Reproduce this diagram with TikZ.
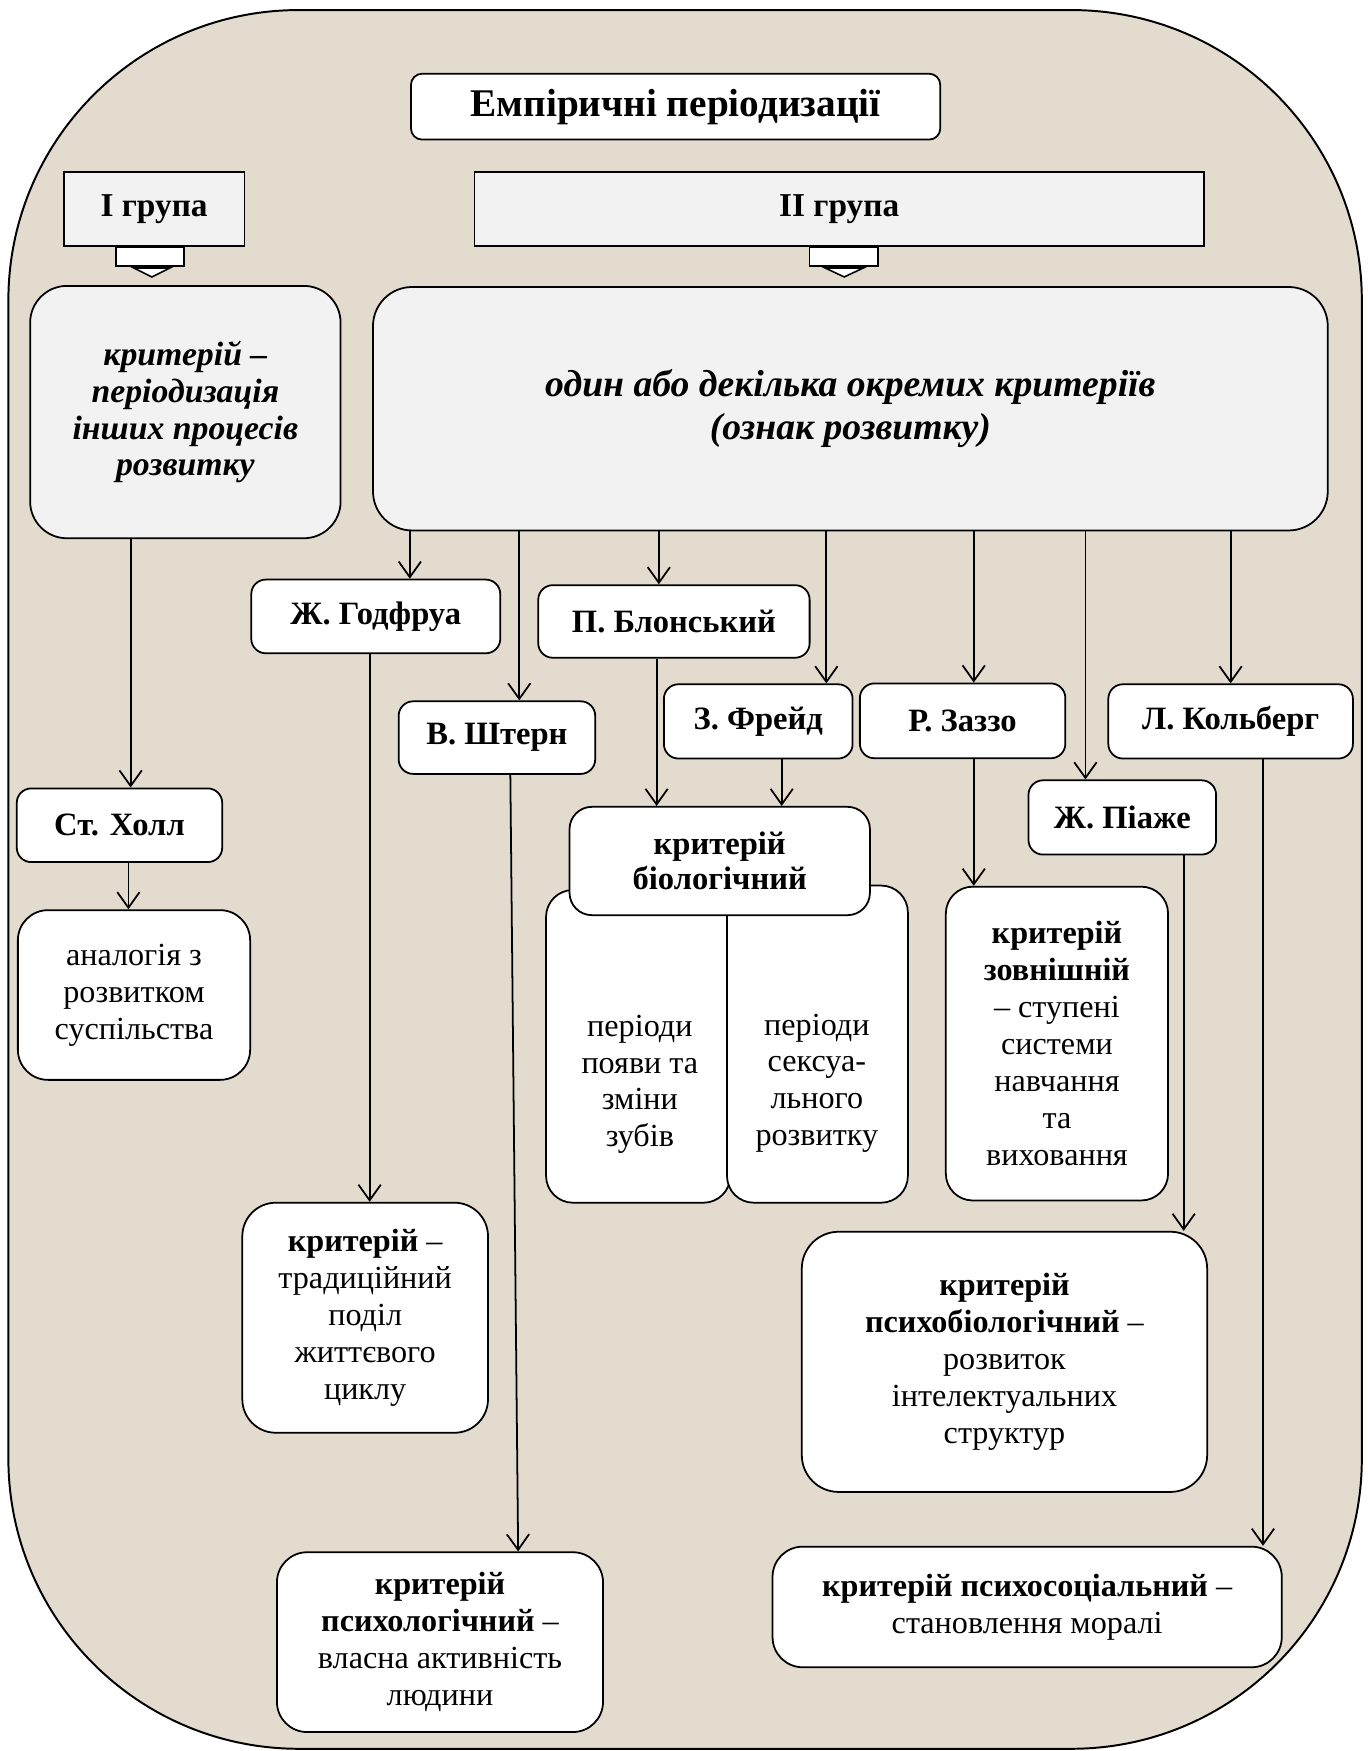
\documentclass[tikz,border=0pt]{standalone}
\usepackage{fontspec}
\setmainfont{Liberation Serif}
\usetikzlibrary{arrows.meta}
\definecolor{paperBeige}{RGB}{226,219,206}
\definecolor{groupGray}{RGB}{242,242,242}

\begin{document}
\begin{tikzpicture}[x=0.1mm, y=-0.1mm,
    box/.style={rectangle, draw=black, line width=0.45pt, fill=white, align=center, inner sep=0pt},
    greybox/.style={box, fill=groupGray},
    namebox/.style={box, rounded corners=1.3mm, font=\fontsize{8.3}{8.9}\selectfont\bfseries},
    textbox/.style={box, rounded corners=2.6mm, font=\fontsize{8.2}{9.4}\selectfont},
    plain/.style={align=center, inner sep=0pt, font=\fontsize{8.2}{9.4}\selectfont},
    arrow/.style={-{Straight Barb[length=1.4mm, width=2mm]}, line width=0.45pt},
    blockarrow/.style={draw=black, line width=0.4pt, fill=white}
]
\useasboundingbox (0,0) rectangle (1225,1568);

% Background sheet
\draw[fill=paperBeige, line width=0.5pt, rounded corners=26mm] (7.5,9) rectangle (1219.5,1566);

% Heading and groups
\node[box, rounded corners=1mm, minimum width=47.4mm, minimum height=5.9mm, font=\fontsize{10}{12}\selectfont\bfseries] (title) at (605,95.5) {Емпіричні періодизації};
\node[greybox, minimum width=16.2mm, minimum height=6.6mm, font=\fontsize{8.5}{10}\selectfont\bfseries] (grp1) at (138,187) {І група};
\node[greybox, minimum width=65.3mm, minimum height=6.6mm, font=\fontsize{8.5}{10}\selectfont\bfseries] (grp2) at (751.5,187) {ІІ група};

% Block arrows under the groups
\draw[blockarrow] (104,221) rectangle (165,238);
\draw[blockarrow] (120,240) -- (152,240) -- (136,248) -- cycle;
\draw[blockarrow] (725,221) rectangle (786,238);
\draw[blockarrow] (739,240) -- (773,240) -- (756,248) -- cycle;

% Criteria of the groups
\node[greybox, rounded corners=3.3mm, minimum width=27.8mm, minimum height=22.6mm, font=\fontsize{8.6}{9.4}\selectfont\bfseries\itshape] (crit1) at (166,369) {критерій –\\періодизація\\інших процесів\\розвитку};
\node[greybox, rounded corners=3.5mm, minimum width=85.5mm, minimum height=21.8mm, font=\fontsize{9.6}{10.8}\selectfont\bfseries\itshape] (crit2) at (761.5,366) {один або декілька окремих критеріїв\\(ознак розвитку)};

% Authors
\node[namebox, minimum width=18.4mm, minimum height=6.6mm] (hall) at (107,739) {Ст. Холл};
\node[namebox, minimum width=22.3mm, minimum height=6.6mm] (godfrua) at (336.5,552) {Ж. Годфруа};
\node[namebox, minimum width=24.3mm, minimum height=6.5mm] (blonsky) at (603.5,556.5) {П. Блонський};
\node[namebox, minimum width=17.6mm, minimum height=6.5mm] (stern) at (445,660.5) {В. Штерн};
\node[namebox, minimum width=16.9mm, minimum height=6.65mm] (freud) at (679,646) {З. Фрейд};
\node[namebox, minimum width=18.4mm, minimum height=6.7mm] (zazzo) at (862,645.5) {Р. Заззо};
\node[namebox, minimum width=21.9mm, minimum height=6.65mm] (kohlberg) at (1102,646) {Л. Кольберг};
\node[namebox, minimum width=16.8mm, minimum height=6.65mm] (piaget) at (1005,732) {Ж. Піаже};

% Criteria of the authors
\node[textbox, rounded corners=2.7mm, minimum width=20.8mm, minimum height=15.2mm] (analog) at (120,891) {аналогія з\\розвитком\\суспільства};
\node[textbox, rounded corners=2.4mm, minimum width=16.5mm, minimum height=28mm] (teeth) at (571.5,937) {};
\node[textbox, rounded corners=2.4mm, minimum width=16.2mm, minimum height=28.4mm] (sexual) at (732,935) {};
\node[namebox, rounded corners=2mm, minimum width=26.9mm, minimum height=9.7mm] (bio) at (644.5,771) {критерій\\біологічний};
\node[plain] (teethtxt) at (573,971) {періоди\\появи та\\зміни\\зубів};
\node[plain] (sexualtxt) at (731.5,970) {періоди\\сексуа-\\льного\\розвитку};
\node[textbox, rounded corners=2.4mm, minimum width=19.9mm, minimum height=28.1mm] (extern) at (946.5,934.5) {\textbf{критерій}\\\textbf{зовнішній}\\– ступені\\системи\\навчання\\та\\виховання};
\node[textbox, rounded corners=3mm, minimum width=22mm, minimum height=20.6mm] (trad) at (327,1180) {\textbf{критерій} –\\традиційний\\поділ\\життєвого\\циклу};
\node[textbox, rounded corners=3.3mm, minimum width=36.3mm, minimum height=23.3mm] (psybio) at (899.5,1219.5) {\textbf{критерій}\\\textbf{психобіологічний} –\\розвиток\\інтелектуальних\\структур};
\node[textbox, rounded corners=2.7mm, minimum width=29.2mm, minimum height=16.1mm] (psych) at (394,1470.5) {\textbf{критерій}\\\textbf{психологічний} –\\власна активність\\людини};
\node[textbox, rounded corners=2.7mm, minimum width=45.6mm, minimum height=10.8mm] (psysoc) at (919.8,1439) {\textbf{критерій психосоціальний} –\\становлення моралі};

% Connectors
\draw[arrow] (117,0 |- crit1.south) -- (117,0 |- hall.north);
\draw[arrow] (115,0 |- hall.south) -- (115,0 |- analog.north);
\draw[arrow] (367,0 |- crit2.south) -- (367,0 |- godfrua.north);
\draw[arrow] (465,0 |- crit2.south) -- (465,0 |- stern.north);
\draw[arrow] (590,0 |- crit2.south) -- (590,0 |- blonsky.north);
\draw[arrow] (740,0 |- crit2.south) -- (740,0 |- freud.north);
\draw[arrow] (872,0 |- crit2.south) -- (872,0 |- zazzo.north);
\draw[arrow] (972,0 |- crit2.south) -- (972,0 |- piaget.north);
\draw[arrow] (1102,482 |- crit2.south) -- (1102,0 |- kohlberg.north);
\draw[arrow] (331,0 |- godfrua.south) -- (331,0 |- trad.north);
\draw[arrow] (457,0 |- stern.south) -- (464,0 |- psych.north);
\draw[arrow] (588,0 |- blonsky.south) -- (588,0 |- bio.north);
\draw[arrow] (700,0 |- freud.south) -- (700,0 |- bio.north);
\draw[arrow] (872,0 |- zazzo.south) -- (872,0 |- extern.north);
\draw[arrow] (1060,0 |- piaget.south) -- (1060,0 |- psybio.north);
\draw[arrow] (1131,0 |- kohlberg.south) -- (1131,0 |- psysoc.north);

\end{tikzpicture}
\end{document}
